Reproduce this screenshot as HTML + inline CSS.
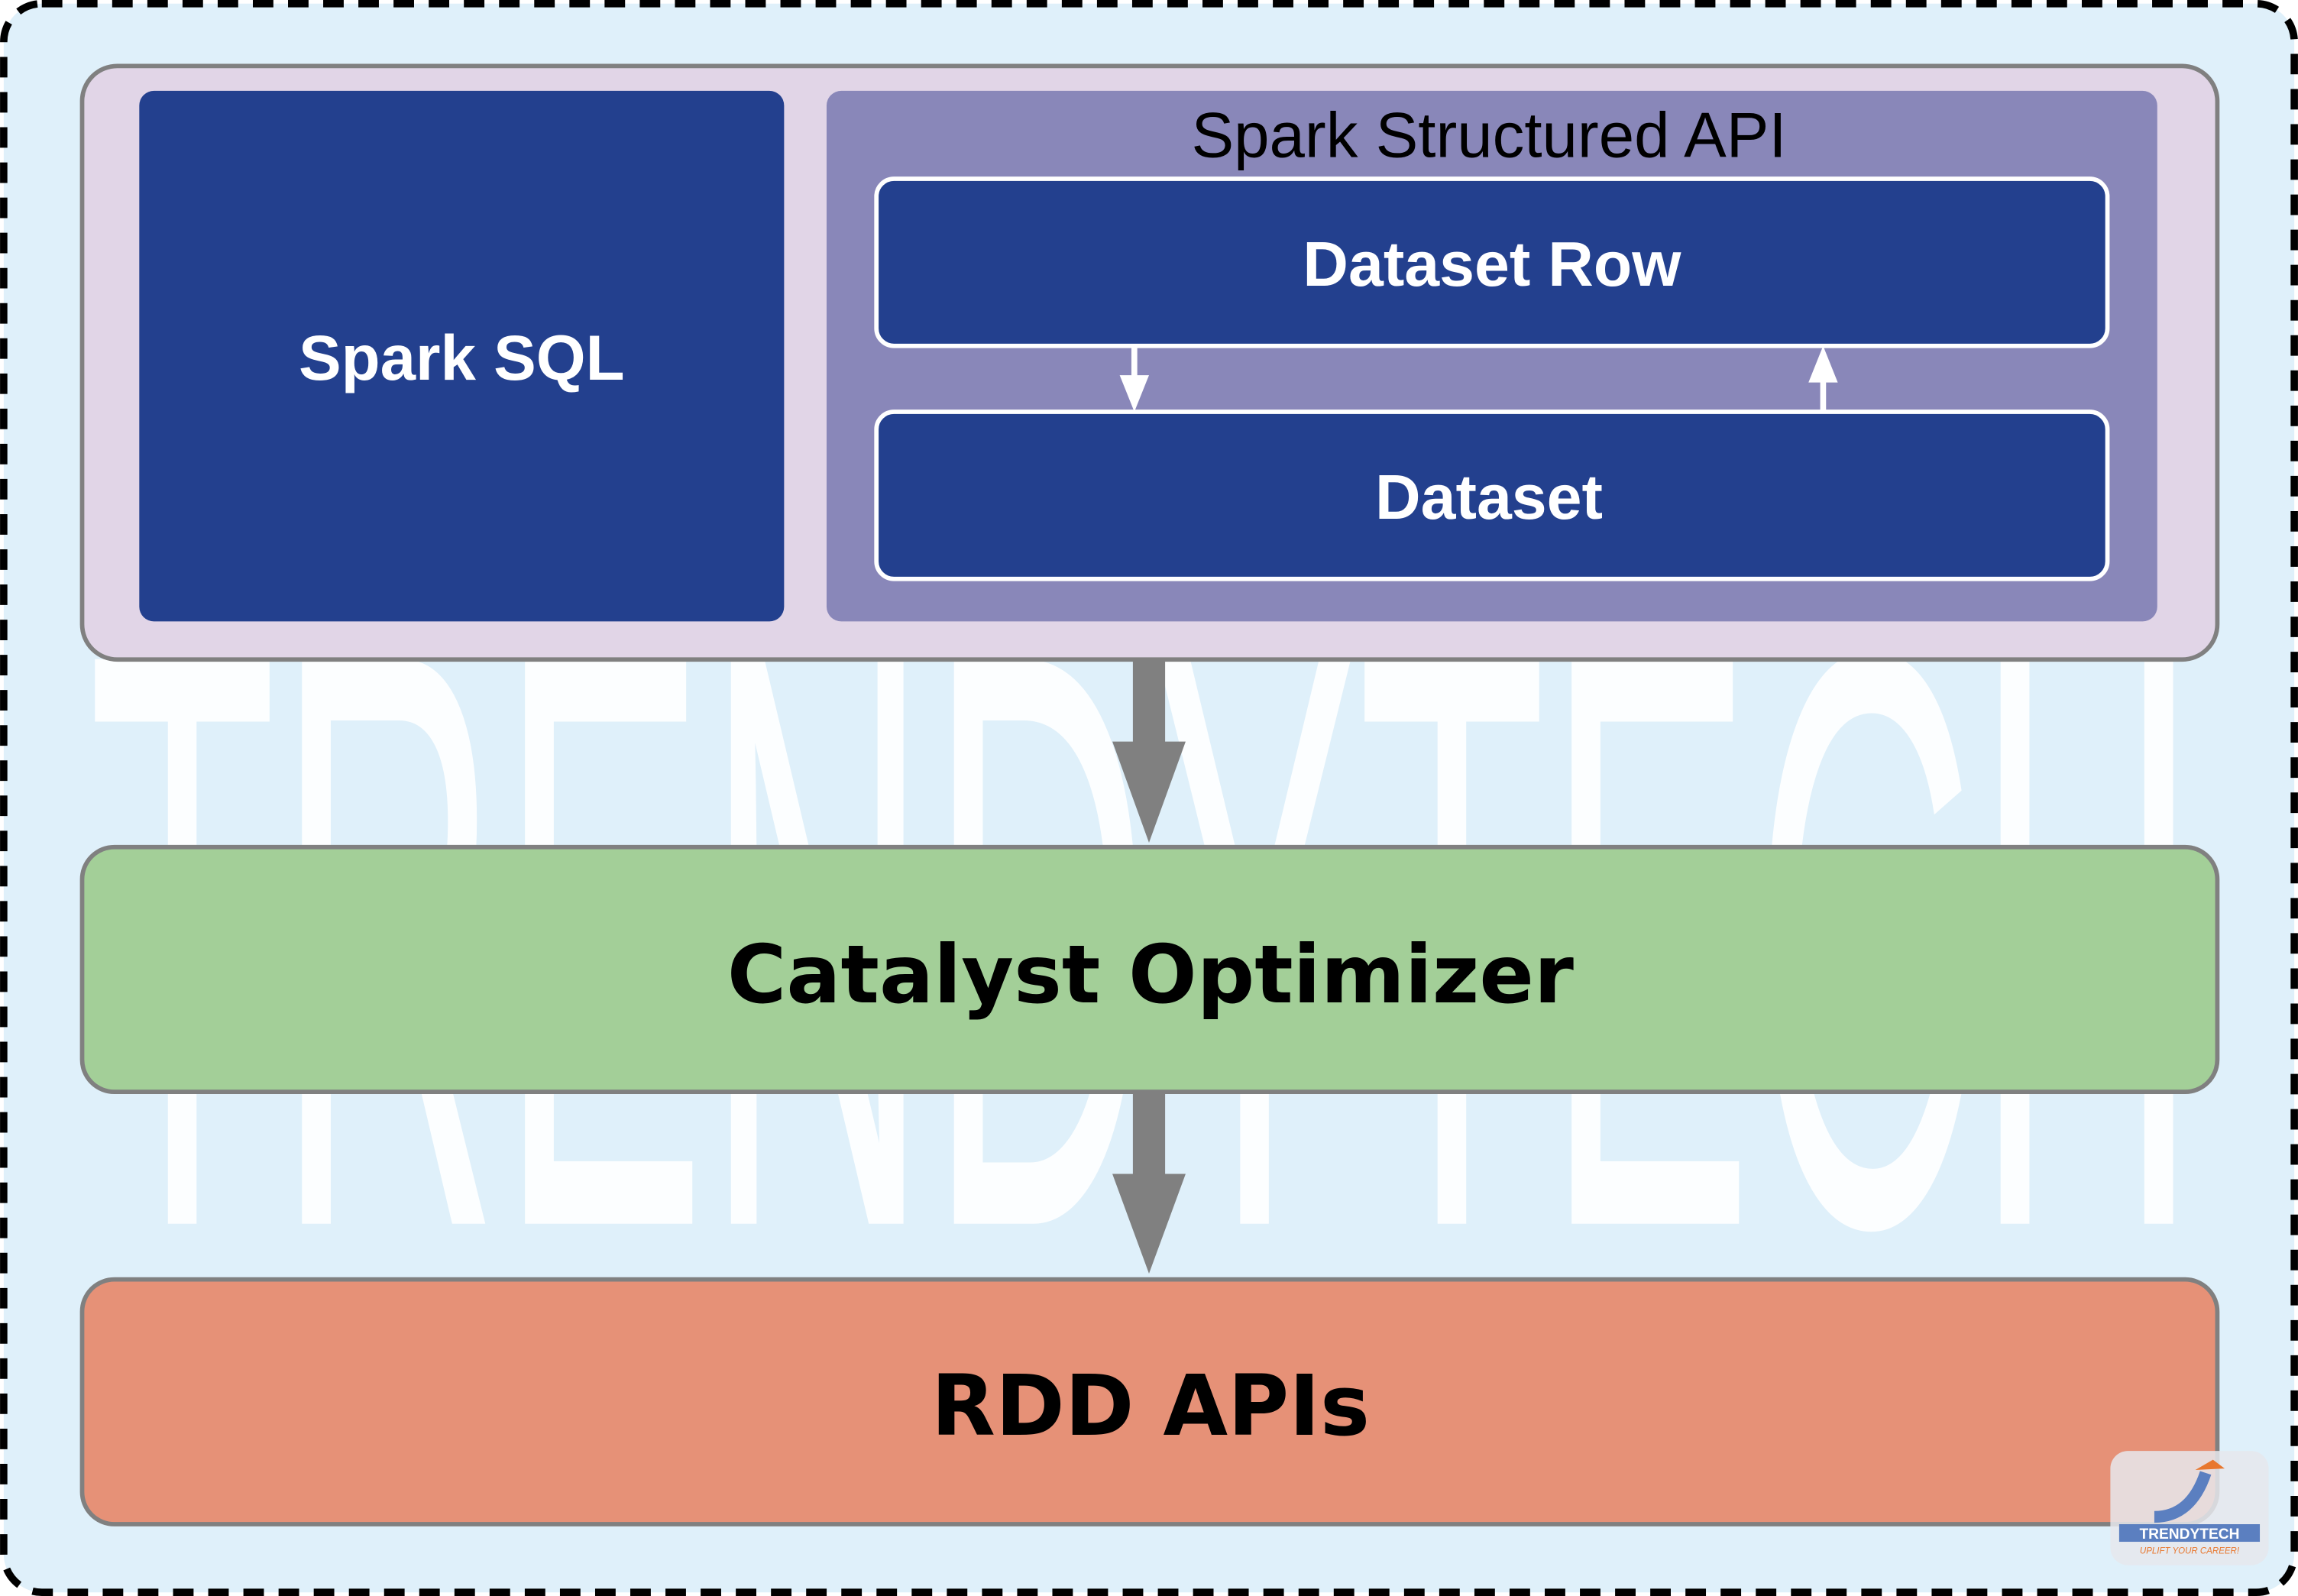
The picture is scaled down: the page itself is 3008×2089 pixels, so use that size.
<!DOCTYPE html>
<html><head><meta charset="utf-8"><style>
html,body{margin:0;padding:0;background:#fff}
svg{display:block}
</style></head><body>
<svg width="3008" height="2089" viewBox="0 0 1568 1089" xmlns="http://www.w3.org/2000/svg">
<rect x="2.5" y="2.5" width="1563" height="1084" rx="26" fill="#dff0fa" stroke="#000" stroke-width="5" stroke-dasharray="14 10"/>
<text x="780" y="835" font-family="Liberation Sans, sans-serif" font-size="560" fill="#ffffff" fill-opacity="0.9" textLength="1440" lengthAdjust="spacingAndGlyphs" text-anchor="middle">TRENDYTECH</text>
<rect x="56" y="45" width="1457" height="405" rx="24" fill="#e1d5e7" stroke="#808080" stroke-width="3"/>
<rect x="95" y="62" width="440" height="362" rx="10" fill="#23408e"/>
<text x="315" y="259" font-family="Liberation Sans, sans-serif" font-weight="bold" font-size="43.5" fill="#fff" text-anchor="middle">Spark SQL</text>
<rect x="564" y="62" width="908" height="362" rx="10" fill="#8987b9"/>
<text x="1016" y="107" font-family="Liberation Sans, sans-serif" font-size="43.5" fill="#000" text-anchor="middle">Spark Structured API</text>
<rect x="598" y="122" width="840" height="114" rx="12" fill="#23408e" stroke="#fff" stroke-width="3"/>
<text x="1018" y="195" font-family="Liberation Sans, sans-serif" font-weight="bold" font-size="43" fill="#fff" text-anchor="middle">Dataset Row</text>
<rect x="598" y="281" width="840" height="114" rx="12" fill="#23408e" stroke="#fff" stroke-width="3"/>
<text x="1016" y="354" font-family="Liberation Sans, sans-serif" font-weight="bold" font-size="43" fill="#fff" text-anchor="middle">Dataset</text>
<line x1="774" y1="237" x2="774" y2="262" stroke="#fff" stroke-width="4"/>
<polygon points="764,256 784,256 774,281" fill="#fff"/>
<line x1="1244" y1="280" x2="1244" y2="255" stroke="#fff" stroke-width="4"/>
<polygon points="1234,261 1254,261 1244,236" fill="#fff"/>
<rect x="773" y="451" width="22" height="56" fill="#808080"/>
<polygon points="759,506 809,506 784,575" fill="#808080"/>
<rect x="56" y="578" width="1457" height="167" rx="22" fill="#a3cf98" stroke="#808080" stroke-width="3"/>
<text x="785" y="684" font-family="DejaVu Sans, sans-serif" font-weight="bold" font-size="55" fill="#000" text-anchor="middle">Catalyst Optimizer</text>
<rect x="773" y="746" width="22" height="56" fill="#808080"/>
<polygon points="759,801 809,801 784,869" fill="#808080"/>
<rect x="56" y="873" width="1457" height="167" rx="22" fill="#e69177" stroke="#808080" stroke-width="3"/>
<text x="785" y="979" font-family="DejaVu Sans, sans-serif" font-weight="bold" font-size="57" fill="#000" text-anchor="middle">RDD APIs</text>
<rect x="1440" y="990" width="108" height="78" rx="12" fill="#e6e8ec" fill-opacity="0.85"/>
<path d="M1470 1035 Q1495 1035 1505 1005" stroke="#5b7fc0" stroke-width="8" fill="none"/>
<polygon points="1498,1003 1518,1002 1510,996" fill="#e8772e"/>
<rect x="1446" y="1040" width="96" height="12" fill="#5b7fc0"/>
<text x="1494" y="1050" font-family="Liberation Sans, sans-serif" font-weight="bold" font-size="10" fill="#fff" text-anchor="middle">TRENDYTECH</text>
<text x="1494" y="1060" font-family="Liberation Sans, sans-serif" font-style="italic" font-size="6" fill="#e8772e" text-anchor="middle">UPLIFT YOUR CAREER!</text>
</svg>
</body></html>
